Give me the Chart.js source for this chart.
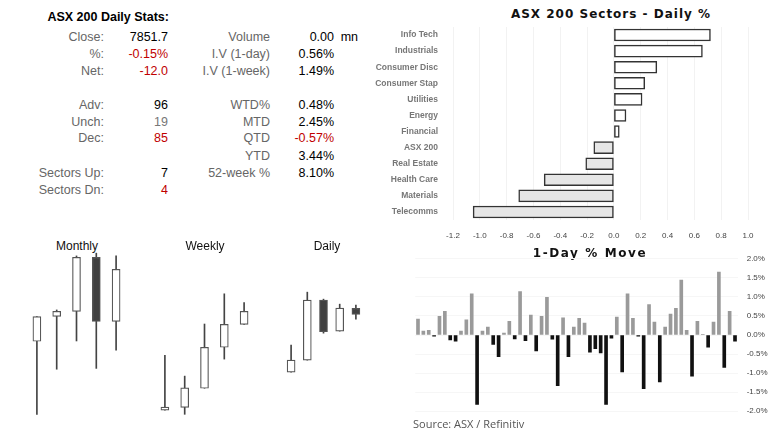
<!DOCTYPE html>
<html>
<head>
<meta charset="utf-8">
<script src="https://cdn.jsdelivr.net/npm/chart.js@4.4.1/dist/chart.umd.min.js"></script>
<style>
    body { margin: 0; width: 780px; height: 440px; background: #fff; position: relative; overflow: hidden; font-family: 'Liberation Sans', Arial, sans-serif; }
    .abs { position: absolute; white-space: nowrap; }
    canvas { position: absolute; }
    .ttl { font-family: 'DejaVu Sans', sans-serif; font-weight: bold; color: #111; text-align: center; }
</style>
</head>
<body>
<div id="stats"></div>

<div class="abs ttl" style="left:480px;top:7px;width:262px;font-size:12px;letter-spacing:1px;">ASX 200 Sectors - Daily %</div>
<canvas id="sectorChart" width="410" height="245" style="left:370px;top:0px;"></canvas>

<div class="abs" style="left:27px;top:239px;width:100px;text-align:center;font-size:12px;color:#111;">Monthly</div>
<div class="abs" style="left:155px;top:239px;width:100px;text-align:center;font-size:12px;color:#111;">Weekly</div>
<div class="abs" style="left:277px;top:239px;width:100px;text-align:center;font-size:12px;color:#111;">Daily</div>
<canvas id="monthlyChart" width="99" height="170" style="left:27px;top:250px;"></canvas>
<canvas id="weeklyChart" width="99" height="170" style="left:155px;top:250px;"></canvas>
<canvas id="dailyChart" width="81" height="170" style="left:283px;top:250px;"></canvas>

<div class="abs ttl" style="left:520px;top:246px;width:140px;font-size:12px;letter-spacing:1.6px;">1-Day % Move</div>
<canvas id="moveChart" width="380" height="180" style="left:400px;top:245px;"></canvas>
<div class="abs" style="left:413px;top:416px;font-size:11px;color:#555;font-family:'Open Sans',sans-serif;">Source: ASX / Refinitiv</div>

<script>
// stats table
const statLeftLabels = ['Close:', '%:', 'Net:', '', 'Adv:', 'Unch:', 'Dec:', '', 'Sectors Up:', 'Sectors Dn:'];
const statLeftValues = ['7851.7', '-0.15%', '-12.0', '', '96', '19', '85', '', '7', '4'];
const statRightLabels = ['Volume', 'I.V (1-day)', 'I.V (1-week)', '', 'WTD%', 'MTD', 'QTD', 'YTD', '52-week %', ''];
const statRightValues = ['0.00', '0.56%', '1.49%', '', '0.48%', '2.45%', '-0.57%', '3.44%', '8.10%', ''];
const statRowY = [36.7, 54, 70.7, 88, 105, 121.7, 138.3, 155.7, 172.7, 190];

// sector moves
const sectorNames = ['Info Tech', 'Industrials', 'Consumer Disc', 'Consumer Stap', 'Utilities', 'Energy', 'Financial', 'ASX 200', 'Real Estate', 'Health Care', 'Materials', 'Telecomms'];
const sectorMoves = [0.72, 0.66, 0.32, 0.23, 0.21, 0.09, 0.04, -0.15, -0.21, -0.52, -0.71, -1.05];

// candles (open, high, low, close)
const monthLabels = ['M1', 'M2', 'M3', 'M4', 'M5'];
const monthOpen = [7592, 7682, 7700, 7895, 7664];
const monthHigh = [7681, 7705, 7900, 7910, 7900];
const monthLow = [7328, 7491, 7593, 7494, 7560];
const monthClose = [7681, 7700, 7895, 7664, 7851.7];

const weekLabels = ['W1', 'W2', 'W3', 'W4', 'W5'];
const weekOpen = [7567, 7575, 7630, 7748, 7814];
const weekHigh = [7725, 7665, 7815, 7902, 7877];
const weekLow = [7567, 7555, 7630, 7714, 7814];
const weekClose = [7576, 7631, 7748, 7814, 7851.7];

const dayLabels = ['D1', 'D2', 'D3', 'D4', 'D5'];
const dayOpen = [7736, 7760, 7880, 7818, 7863.7];
const dayHigh = [7790, 7896, 7882, 7872, 7870];
const dayLow = [7736, 7760, 7814, 7818, 7842];
const dayClose = [7760, 7880, 7817, 7864, 7851.7];

// 1-day % moves
const moveValues = [0.42, 0.10, 0.12, -0.03, 0.49, 0.62, -0.13, -0.16, 0.10, 0.40,
    1.08, -1.82, 0.10, 0.21, -0.25, -0.57, 0.05, 0.36, -0.10, 1.14,
    -0.15, 0.52, -0.42, 0.49, 0.99, -0.11, -1.33, 0.45, -0.57, 0.21,
    0.44, 0.31, -0.45, -0.36, -0.47, -1.82, -0.08, 0.47, -0.97, 1.08,
    0.44, -0.03, -1.41, 0.80, 0.34, -1.23, 0.21, 0.55, 0.70, 1.44,
    0.12, -1.08, 0.36, 0.02, -0.32, 0.34, 1.65, -0.85, 0.62, -0.16];
const moveLabels = moveValues.map((v, i) => 'Day ' + (i + 1));

const RED = '#c00000';

function addText(text, rightX, yc, color, opts = {}) {
    const d = document.createElement('div');
    d.className = 'abs';
    d.textContent = text;
    d.style.left = (rightX - 200) + 'px';
    d.style.width = '200px';
    d.style.textAlign = 'right';
    d.style.top = (yc - 8) + 'px';
    d.style.lineHeight = '16px';
    d.style.fontSize = (opts.size || 12.5) + 'px';
    d.style.color = color;
    if (opts.bold) d.style.fontWeight = 'bold';
    document.getElementById('stats').appendChild(d);
}

function isRed(v) { return v.startsWith('-'); }

function buildStats() {
    addText('ASX 200 Daily Stats:', 169, 16.7, '#000', { bold: true, size: 12.5 });
    statRowY.forEach((y, i) => {
        if (statLeftLabels[i]) addText(statLeftLabels[i], 104, y, '#666');
        if (statLeftValues[i]) {
            let col = isRed(statLeftValues[i]) ? RED : '#000';
            if (statLeftLabels[i] === 'Dec:' || statLeftLabels[i] === 'Sectors Dn:') col = RED;
            if (statLeftLabels[i] === 'Unch:') col = '#777';
            addText(statLeftValues[i], 168, y, col);
        }
        if (statRightLabels[i]) addText(statRightLabels[i], 270, y, '#666');
        if (statRightValues[i]) addText(statRightValues[i], 334, y, isRed(statRightValues[i]) ? RED : '#000');
    });
    addText('mn', 358, statRowY[0], '#000');
}

function renderSectors() {
    const ctx = document.getElementById('sectorChart').getContext('2d');
    new Chart(ctx, {
        type: 'bar',
        data: {
            labels: sectorNames,
            datasets: [{
                data: sectorMoves,
                backgroundColor: c => c.raw >= 0 ? '#ffffff' : '#e6e6e6',
                borderColor: '#333',
                borderWidth: 1.5,
                borderSkipped: false,
                barThickness: 12
            }]
        },
        options: {
            indexAxis: 'y',
            responsive: false,
            animation: false,
            layout: { padding: { top: 27, right: 32, left: 0, bottom: 0 } },
            plugins: { legend: { display: false }, tooltip: { enabled: false } },
            scales: {
                x: {
                    min: -1.2, max: 1.0,
                    ticks: { stepSize: 0.2, color: '#444', font: { size: 8 }, padding: 11, callback: v => v.toFixed(1) },
                    grid: { color: '#f2f2f2', drawTicks: false },
                    border: { display: false },
                    afterFit: s => { s.height = 25; }
                },
                y: {
                    ticks: { color: '#777', font: { size: 8.5, weight: 'bold', family: 'Liberation Sans' }, padding: 7 },
                    grid: { display: false },
                    border: { display: false },
                    afterFit: s => { s.width = 83; }
                }
            }
        }
    });
}

function renderCandles(id, labels, open, high, low, close, yMin, yMax) {
    const ctx = document.getElementById(id).getContext('2d');
    new Chart(ctx, {
        type: 'bar',
        data: {
            labels: labels,
            datasets: [{
                data: open.map((o, i) => [o, close[i]]),
                backgroundColor: open.map((o, i) => close[i] >= o ? '#ffffff' : '#404040'),
                borderColor: '#555',
                borderWidth: 1.2,
                borderSkipped: false,
                barThickness: 8,
                grouped: false,
                order: 0
            }, {
                data: low.map((l, i) => [l, high[i]]),
                backgroundColor: '#444',
                barThickness: 1,
                grouped: false,
                order: 1
            }]
        },
        options: {
            responsive: false,
            animation: false,
            layout: { padding: 0 },
            plugins: { legend: { display: false }, tooltip: { enabled: false } },
            scales: {
                x: { display: false },
                y: { display: false, min: yMin, max: yMax }
            }
        }
    });
}

function renderMoves() {
    const ctx = document.getElementById('moveChart').getContext('2d');
    new Chart(ctx, {
        type: 'bar',
        data: {
            labels: moveLabels,
            datasets: [{
                data: moveValues,
                backgroundColor: c => c.raw >= 0 ? '#9a9a9a' : '#111111',
                barThickness: 3
            }]
        },
        options: {
            responsive: false,
            animation: false,
            layout: { padding: { left: 15.3, top: 10.7, bottom: 11.7, right: 0 } },
            plugins: { legend: { display: false }, tooltip: { enabled: false } },
            scales: {
                x: { display: false },
                y: {
                    position: 'right',
                    min: -2, max: 2,
                    ticks: { stepSize: 0.5, color: '#444', font: { size: 8 }, padding: 9, callback: v => v.toFixed(1) + '%' },
                    grid: { color: '#f6f6f6', drawTicks: false },
                    border: { display: false },
                    afterFit: s => { s.width = 42.3; }
                }
            }
        }
    });
}

window.addEventListener('DOMContentLoaded', () => {
    buildStats();
    renderSectors();
    renderCandles('monthlyChart', monthLabels, monthOpen, monthHigh, monthLow, monthClose, 7307.7, 7921.4);
    renderCandles('weeklyChart', weekLabels, weekOpen, weekHigh, weekLow, weekClose, 7538.6, 8028.2);
    renderCandles('dailyChart', dayLabels, dayOpen, dayHigh, dayLow, dayClose, 7640.3, 7980.3);
    renderMoves();
});
</script>
</body>
</html>
